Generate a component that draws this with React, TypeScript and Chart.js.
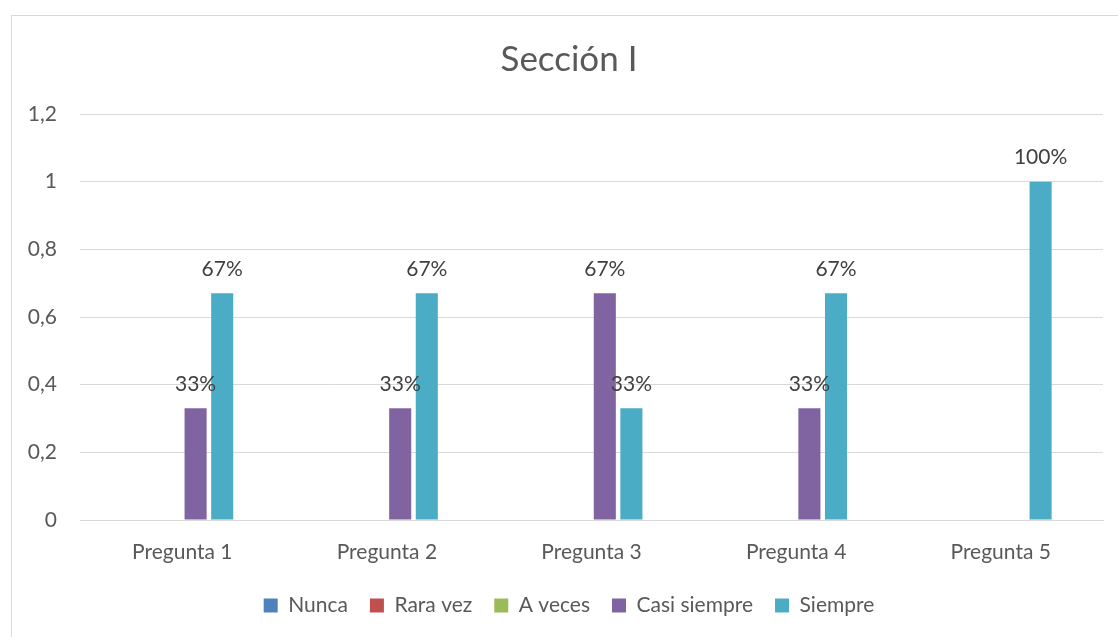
import React, { useEffect, useRef } from "react";
import { Chart, registerables } from "chart.js";

Chart.register(...registerables);

const categories = ["Pregunta 1", "Pregunta 2", "Pregunta 3", "Pregunta 4", "Pregunta 5"];
const seriesNames = ["Nunca", "Rara vez", "A veces", "Casi siempre", "Siempre"];
const nunca = [0, 0, 0, 0, 0];
const raraVez = [0, 0, 0, 0, 0];
const aVeces = [0, 0, 0, 0, 0];
const casiSiempre = [0.33, 0.33, 0.67, 0.33, 0];
const siempre = [0.67, 0.67, 0.33, 0.67, 1];
const emptySeries = [null, null, null, null, null];
const seriesColors = ["#4F81BD", "#C0504D", "#9BBB59", "#8064A2", "#4BACC6"];
const yTicks = [0, 0.2, 0.4, 0.6, 0.8, 1, 1.2];

const FONT = "Lato, 'Noto Sans', sans-serif";

const labelPlugin = {
  id: "barValueLabels",
  afterDatasetsDraw(chart: any) {
    const ctx = chart.ctx;
    ctx.save();
    ctx.font = `21px ${FONT}`;
    ctx.fillStyle = "#404040";
    ctx.textAlign = "center";
    ctx.textBaseline = "middle";
    chart.data.datasets.forEach((ds: any, di: number) => {
      const meta = chart.getDatasetMeta(di);
      meta.data.forEach((bar: any, i: number) => {
        const v = ds.data[i];
        if (v == null || v === 0) return;
        ctx.fillText(`${Math.round(v * 100)}%`, bar.x, bar.y - 24);
      });
    });
    ctx.restore();
  },
};

export default function App() {
  const ref = useRef<HTMLCanvasElement>(null);
  useEffect(() => {
    if (!ref.current) return;
    const data = [nunca, raraVez, aVeces, casiSiempre, siempre];
    const datasets: any[] = data.map((d, i) => ({
      label: seriesNames[i],
      data: d,
      backgroundColor: seriesColors[i],
      borderWidth: 0,
      categoryPercentage: 0.78,
      barPercentage: 0.83,
    }));
    datasets.push({
      label: "",
      data: emptySeries,
      backgroundColor: "transparent",
      borderWidth: 0,
      categoryPercentage: 0.78,
      barPercentage: 0.83,
    });
    const chart = new Chart(ref.current, {
      type: "bar",
      data: { labels: categories, datasets },
      plugins: [labelPlugin],
      options: {
        animation: false,
        responsive: false,
        maintainAspectRatio: false,
        layout: { padding: { left: 0, right: 0, top: 0, bottom: 11 } },
        plugins: {
          tooltip: { enabled: false },
          title: {
            display: true,
            text: "Sección I",
            color: "#595959",
            font: { family: FONT, size: 35, weight: "normal" },
            padding: { top: 23, bottom: 33 },
          },
          legend: {
            position: "bottom",
            labels: {
              filter: (item: any) => item.text !== "",
              color: "#595959",
              font: { family: FONT, size: 21 },
              boxWidth: 14,
              boxHeight: 14,
              padding: 22,
            },
          },
        },
        scales: {
          x: {
            grid: { display: false, drawTicks: false },
            border: { display: true, color: "#D9D9D9", width: 1 },
            afterFit: (s: any) => {
              s.height = 53;
            },
            ticks: {
              color: "#595959",
              font: { family: FONT, size: 21 },
              padding: 20,
            },
          },
          y: {
            min: 0,
            max: 1.2,
            afterFit: (s: any) => {
              s.width = 68;
            },
            afterBuildTicks: (s: any) => {
              s.ticks = yTicks.map((v) => ({ value: v }));
            },
            grid: { color: "#D9D9D9", lineWidth: 1, drawTicks: false },
            border: { display: false },
            ticks: {
              color: "#595959",
              font: { family: FONT, size: 21 },
              padding: 23,
              callback: (v: any) => String(Math.round(Number(v) * 10) / 10).replace(".", ","),
            },
          },
          yRight: {
            position: "right",
            display: true,
            min: 0,
            max: 1.2,
            grid: { display: false, drawTicks: false },
            border: { display: false },
            ticks: { display: false },
            afterFit: (s: any) => {
              s.width = 23;
            },
          },
        },
      },
    });
    return () => chart.destroy();
  }, []);
  return (
    <div
      style={{
        position: "fixed",
        left: 0,
        top: 0,
        width: 1118,
        height: 637,
        overflow: "hidden",
        background: "#fff",
      }}
    >
      <div
        style={{
          position: "absolute",
          left: 11,
          top: 15,
          width: 1130,
          height: 640,
          borderLeft: "1px solid #D9D9D9",
          borderTop: "1px solid #D9D9D9",
        }}
      />
      <canvas
        ref={ref}
        width={1114}
        height={621}
        style={{ position: "absolute", left: 12, top: 16, width: 1114, height: 621 }}
      />
    </div>
  );
}
